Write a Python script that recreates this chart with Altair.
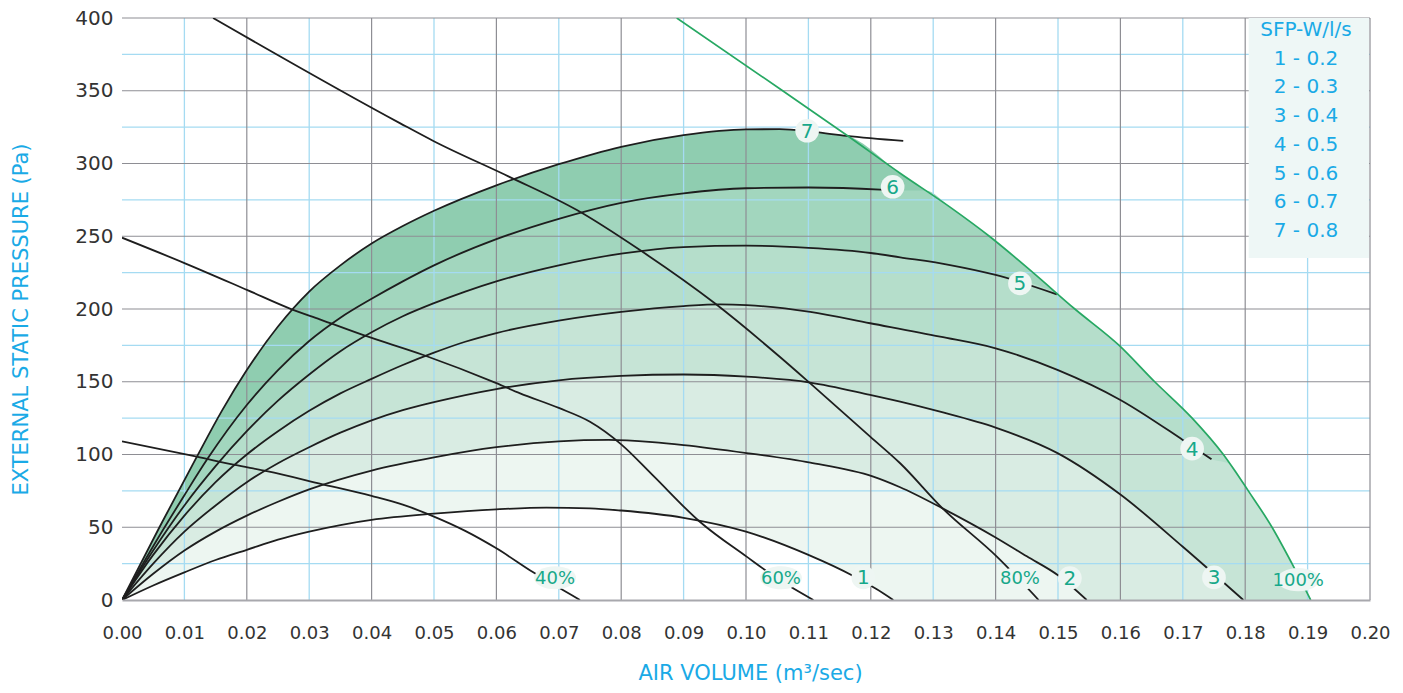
import altair as alt
import pandas as pd

# ---------------- data ----------------
x_ticks = [0.00, 0.01, 0.02, 0.03, 0.04, 0.05, 0.06, 0.07, 0.08, 0.09, 0.10,
           0.11, 0.12, 0.13, 0.14, 0.15, 0.16, 0.17, 0.18, 0.19, 0.20]
y_ticks = [0, 50, 100, 150, 200, 250, 300, 350, 400]
grid_q_major = [0.02, 0.04, 0.06, 0.08, 0.10, 0.12, 0.14, 0.16, 0.18, 0.20]
grid_q_minor = [0.01, 0.03, 0.05, 0.07, 0.09, 0.11, 0.13, 0.15, 0.17, 0.19]
grid_p_major = [50, 100, 150, 200, 250, 300, 350, 400]
grid_p_minor = [25, 75, 125, 175, 225, 275, 325, 375]

# SFP contour curves 1..7 (air volume m3/s, pressure Pa)
c1_q = [0, 0.005, 0.010, 0.015, 0.020, 0.025, 0.030, 0.035, 0.040, 0.050, 0.060, 0.068, 0.075, 0.080, 0.090, 0.100, 0.110, 0.1172, 0.1209, 0.1236]
c1_p = [0, 10, 19, 27.5, 34.5, 41.5, 47, 51.5, 55, 59.3, 62.3, 63.5, 63, 61.5, 56.5, 47, 31, 16.5, 7.5, 0]

c2_q = [0, 0.005, 0.010, 0.015, 0.020, 0.025, 0.030, 0.040, 0.050, 0.060, 0.070, 0.078, 0.085, 0.090, 0.1001, 0.1103, 0.1204, 0.1247, 0.1315, 0.140, 0.145, 0.150, 0.1546]
c2_p = [0, 18, 34, 47, 58, 67.5, 76, 89, 98, 105, 109, 110, 108.5, 106.5, 101, 94.4, 84.8, 77.5, 63, 43, 30, 17, 0]

c3_q = [0, 0.005, 0.010, 0.015, 0.020, 0.025, 0.030, 0.035, 0.040, 0.045, 0.050, 0.060, 0.070, 0.080, 0.090, 0.1001, 0.1103, 0.1199, 0.1247, 0.1311, 0.140, 0.150, 0.160, 0.170, 0.1797]
c3_p = [0, 25, 47, 65, 81, 94, 105, 115, 123.5, 130.5, 136, 145, 151, 154, 155, 153.5, 149.4, 140.9, 136.3, 129.4, 118.5, 100.8, 72.5, 36.6, 0]

c4_q = [0, 0.005, 0.010, 0.015, 0.020, 0.025, 0.030, 0.035, 0.040, 0.045, 0.050, 0.055, 0.060, 0.070, 0.080, 0.090, 0.0958, 0.1001, 0.1103, 0.1199, 0.1311, 0.140, 0.150, 0.160, 0.170, 0.1746]
c4_p = [0, 31, 58, 81, 100, 116, 130, 142, 152, 161.5, 170, 177.5, 183.5, 192, 198, 202, 203.2, 202.7, 198, 190.2, 181, 173, 158, 137.5, 110, 96.7]

c5_q = [0, 0.005, 0.010, 0.015, 0.020, 0.025, 0.030, 0.035, 0.040, 0.045, 0.050, 0.055, 0.060, 0.070, 0.080, 0.090, 0.100, 0.110, 0.120, 0.1247, 0.1327, 0.140, 0.1498]
c5_p = [0, 34, 65, 92, 116, 137, 155, 171, 184, 195, 204, 212, 219, 230, 238, 242.5, 243.5, 242, 238.5, 235.5, 230.2, 223.4, 210.1]

c6_q = [0, 0.005, 0.010, 0.0137, 0.020, 0.025, 0.030, 0.035, 0.040, 0.045, 0.050, 0.060, 0.070, 0.080, 0.090, 0.100, 0.110, 0.1215, 0.1234]
c6_p = [0, 37, 72, 97, 134, 158, 178, 194, 207, 219, 230, 248, 262, 273, 279.5, 283, 283.5, 282, 281.5]

c7_q = [0, 0.006, 0.012, 0.016, 0.020, 0.025, 0.030, 0.035, 0.040, 0.045, 0.050, 0.060, 0.070, 0.080, 0.090, 0.100, 0.1054, 0.1108, 0.1161, 0.1252]
c7_p = [0, 50, 98.5, 130, 158, 188, 212, 230, 245, 257, 267.5, 285, 299.5, 311.5, 319.5, 323.5, 323.6, 321.7, 319, 315.5]

# fan speed curves
f40_q = [0, 0.012, 0.0181, 0.0232, 0.032, 0.040, 0.045, 0.0499, 0.055, 0.060, 0.0659, 0.0734]
f40_p = [109, 98.5, 92.8, 88.5, 79.7, 71.5, 65.5, 57.5, 47.5, 35.5, 19, 0]

f60_q = [0, 0.0101, 0.0201, 0.0272, 0.0317, 0.0387, 0.0483, 0.060, 0.0638, 0.070, 0.075, 0.080, 0.085, 0.0926, 0.1001, 0.1054, 0.1108]
f60_p = [249, 231.4, 213, 199.8, 192.9, 182, 168.4, 149, 142, 132, 122.5, 107, 86, 53.8, 29.8, 13.7, 0]

f80_q = [0.0146, 0.0446, 0.0499, 0.0620, 0.0729, 0.083, 0.0950, 0.1054, 0.1103, 0.1199, 0.1247, 0.1315, 0.1402, 0.1469]
f80_p = [400, 327.6, 315.5, 291, 268, 240.5, 203.9, 167.2, 148.9, 112.3, 94, 63, 29.8, 0]

f100_q = [0.0889, 0.1057, 0.1161, 0.1247, 0.1327, 0.139, 0.146, 0.1527, 0.1598, 0.1655, 0.1715, 0.1765, 0.1805, 0.1843, 0.1875, 0.1905]
f100_p = [400, 350.5, 319.6, 293.3, 270, 250, 225, 200, 175, 150, 125, 100, 75, 50, 25, 0]

# points where curves 6 and 4 meet the 100% curve
join6 = (0.1288, 281.4)
join4 = (0.1775, 93.5)

# curve labels
lab_digit_text = ["7", "6", "5", "4", "1", "2", "3"]
lab_digit_q = [0.1098, 0.1235, 0.1439, 0.1715, 0.1188, 0.1519, 0.1750]
lab_digit_p = [322.5, 284, 217.6, 104, 15.5, 15, 15.5]
lab_pct_text = ["40%", "60%", "80%", "100%"]
lab_pct_q = [0.0694, 0.1056, 0.1439, 0.1885]
lab_pct_p = [15.3, 15.3, 15, 14]

legend_title = "SFP-W/l/s"
legend_items = ["1 - 0.2", "2 - 0.3", "3 - 0.4", "4 - 0.5", "5 - 0.6", "6 - 0.7", "7 - 0.8"]

# ---------------- styles ----------------
band_colors = {7: "#8fcdb0", 6: "#a2d6be", 5: "#b5decb", 4: "#c6e4d6",
               3: "#d9ece3", 2: "#edf6f1", 1: "#ffffff"}
FONT = "DejaVu Sans"
CYAN = "#1aaae6"
TEAL = "#17a88a"

xs = alt.Scale(domain=[0, 0.2], nice=False, zero=False)
ys = alt.Scale(domain=[0, 400], nice=False)

x_axis = alt.Axis(values=x_ticks, format=".2f", labelFlush=False, grid=False, ticks=False, tickSize=0,
                  domain=True, domainColor="#a8a8ad", domainWidth=2,
                  labelFont=FONT, labelFontSize=18, labelColor="#333333", labelPadding=24,
                  title="AIR VOLUME (m³/sec)", titleFont=FONT, titleFontSize=21, titleFontWeight="normal",
                  titleColor=CYAN, titleX=628, titleY=73, titleAlign="center", titleBaseline="middle",
                  zindex=1)
y_axis = alt.Axis(values=y_ticks, grid=False, ticks=False, tickSize=0, domain=False,
                  labelFont=FONT, labelFontSize=20, labelColor="#333333", labelPadding=9,
                  title="EXTERNAL STATIC PRESSURE (Pa)", titleFont=FONT, titleFontSize=21,
                  titleFontWeight="normal", titleColor=CYAN, titleAngle=270, titleX=-101, titleY=301,
                  titleAlign="center", titleBaseline="middle", zindex=1)


def X():
    return alt.X("q:Q", scale=xs, axis=x_axis)


def Y():
    return alt.Y("p:Q", scale=ys, axis=y_axis, stack=None)


def envelope(cq, cp, join=None, to_green=True):
    q = list(cq)
    p = list(cp)
    if join is not None:
        q.append(join[0])
        p.append(join[1])
    if to_green:
        last = q[-1]
        for gq, gp in zip(f100_q, f100_p):
            if gq > last + 1e-9:
                q.append(gq)
                p.append(gp)
    return pd.DataFrame({"q": q, "p": p})


fills = [
    (7, envelope(c7_q[:-1], c7_p[:-1])),
    (6, envelope(c6_q, c6_p, join6)),
    (5, envelope(c5_q, c5_p)),
    (4, envelope(c4_q, c4_p, join4)),
    (3, envelope(c3_q, c3_p, to_green=False)),
    (2, envelope(c2_q, c2_p, to_green=False)),
    (1, envelope(c1_q, c1_p, to_green=False)),
]

layers = []
for k, df in fills:
    layers.append(alt.Chart(df).mark_area(color=band_colors[k], opacity=1, interpolate="monotone").encode(
        x=X(), y=Y()))

# grid
layers.append(alt.Chart(pd.DataFrame({"q": grid_q_minor})).mark_rule(color="#a5dbf2", strokeWidth=1.3).encode(x=X()))
layers.append(alt.Chart(pd.DataFrame({"p": grid_p_minor})).mark_rule(color="#a5dbf2", strokeWidth=1.3).encode(y=Y()))
layers.append(alt.Chart(pd.DataFrame({"q": grid_q_major})).mark_rule(color="#8e8e94", strokeWidth=1.2).encode(x=X()))
layers.append(alt.Chart(pd.DataFrame({"p": grid_p_major})).mark_rule(color="#8e8e94", strokeWidth=1.2).encode(y=Y()))

# black curves
rows = []
for name, qs, ps in [("1", c1_q, c1_p), ("2", c2_q, c2_p), ("3", c3_q, c3_p), ("4", c4_q, c4_p),
                     ("5", c5_q, c5_p), ("6", c6_q, c6_p), ("7", c7_q, c7_p),
                     ("40%", f40_q, f40_p), ("60%", f60_q, f60_p), ("80%", f80_q, f80_p)]:
    for i, (q, p) in enumerate(zip(qs, ps)):
        rows.append({"name": name, "q": q, "p": p, "i": i})
lines_df = pd.DataFrame(rows)
layers.append(alt.Chart(lines_df).mark_line(color="#1e1e1e", strokeWidth=1.8, clip=True,
                                            interpolate="monotone").encode(
    x=X(), y=Y(), detail="name:N", order="i:Q"))

layers.append(alt.Chart(pd.DataFrame({"q": f100_q, "p": f100_p})).mark_line(
    color="#27a863", strokeWidth=1.7, clip=True, interpolate="monotone").encode(x=X(), y=Y()))

# label bubbles + text
dig_df = pd.DataFrame({"t": lab_digit_text, "q": lab_digit_q, "p": lab_digit_p})
pct_df = pd.DataFrame({"t": lab_pct_text, "q": lab_pct_q, "p": lab_pct_p})
layers.append(alt.Chart(dig_df).mark_point(filled=True, shape="circle", size=560, color="#eef6f3",
                                           opacity=1, strokeWidth=0).encode(x=X(), y=Y()))
layers.append(alt.Chart(pct_df).mark_point(
    filled=True, shape="M -1 0 A 1 0.55 0 1 1 1 0 A 1 0.55 0 1 1 -1 0 Z",
    size=1764, color="#eef6f3", opacity=1, strokeWidth=0).encode(x=X(), y=Y()))
layers.append(alt.Chart(dig_df).mark_text(font=FONT, fontSize=20, color=TEAL, align="center",
                                          baseline="middle", dy=1).encode(x=X(), y=Y(), text="t:N"))
layers.append(alt.Chart(pct_df).mark_text(font=FONT, fontSize=18, color=TEAL, align="center",
                                          baseline="middle", dy=1).encode(x=X(), y=Y(), text="t:N"))

# SFP legend box
layers.append(alt.Chart(pd.DataFrame({"k": [0]})).mark_rect(color="#eef7f6").encode(
    x=alt.value(1126.7), x2=alt.value(1247), y=alt.value(0), y2=alt.value(240)))
legend_text = "\n".join([legend_title] + legend_items)
layers.append(alt.Chart(pd.DataFrame({"t": [legend_text]})).mark_text(
    font=FONT, fontSize=20, color=CYAN, align="center", baseline="top", lineBreak="\n",
    lineHeight=28.7).encode(text="t:N", x=alt.value(1184), y=alt.value(2)))

chart = alt.layer(*layers).properties(
    width=1248, height=582,
    padding={"left": 114, "top": 10, "right": 25, "bottom": 85},
    autosize=alt.AutoSizeParams(type="none"),
    background="white",
).configure_view(stroke=None)

chart.save("out.html", embed_options={"renderer": "svg", "actions": False})
